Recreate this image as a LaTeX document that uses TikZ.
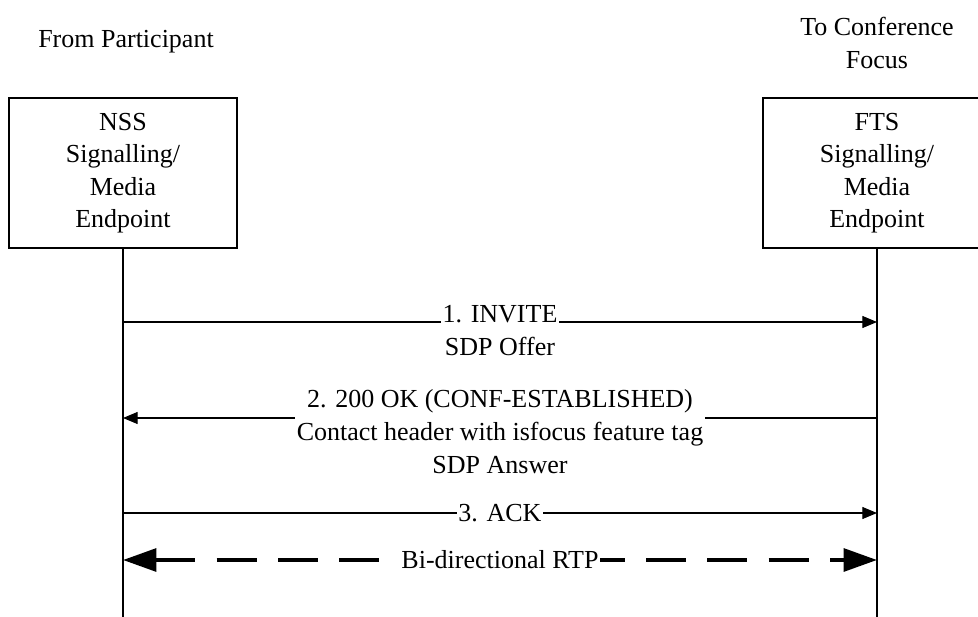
\documentclass[tikz,border=0pt]{standalone}
\usepackage{fontspec}
\setmainfont{Liberation Serif}
\usetikzlibrary{arrows.meta}

\tikzset{
  entity/.style={draw, line width=1pt, minimum width=171pt, minimum height=112.5pt, align=center},
  msg/.style={line width=0.8pt, -{Triangle[length=11pt,width=9pt]}},
  media/.style={line width=3pt, dash pattern=on 30pt off 16pt,
    {Triangle[length=25pt,width=17pt]}-{Triangle[length=25pt,width=17pt]}},
  lbl/.style={fill=white, inner sep=1pt, align=center}
}

\begin{document}
\begin{tikzpicture}[x=0.75pt,y=-0.75pt,font=\fontsize{19.5}{24.4}\selectfont]
\useasboundingbox (0,0) rectangle (978,617);

% Column titles
\node (from) at (126,42) {From Participant};
\node[align=center] (to) at (877,43) {To Conference\\Focus};

% Endpoints
\node[entity] (nss) at (123,173) {NSS\\Signalling/\\Media\\Endpoint};
\node[entity] (fts) at (877,173) {FTS\\Signalling/\\Media\\Endpoint};

% Lifelines
\coordinate (nssEnd) at (123,617);
\coordinate (ftsEnd) at (877,617);
\draw[line width=1pt] (nss.south) -- (nssEnd);
\draw[line width=1pt] (fts.south) -- (ftsEnd);

% Points on the lifelines
\coordinate (invL) at (123,322);
\coordinate (invR) at (877,322);
\coordinate (okL) at (123,418);
\coordinate (okR) at (877,418);
\coordinate (ackL) at (123,513);
\coordinate (ackR) at (877,513);
\coordinate (rtpL) at (123,560);
\coordinate (rtpR) at (877,560);

% Messages (base = last line)
\draw[msg] (invL) -- (invR);
\node[lbl, anchor=base] (inv) at (500,355) {1. INVITE\\SDP Offer};

\draw[msg] (okR) -- (okL);
\node[lbl, anchor=base] (ok) at (500,473) {2. 200 OK (CONF-ESTABLISHED)\\Contact header with isfocus feature tag\\SDP Answer};

\draw[msg] (ackL) -- (ackR);
\node[lbl] (ack) at (500,513) {3. ACK};

% Media
\draw[media] (rtpL) -- (rtpR);
\node[lbl] (rtp) at (500,560) {Bi-directional RTP};

\end{tikzpicture}
\end{document}
